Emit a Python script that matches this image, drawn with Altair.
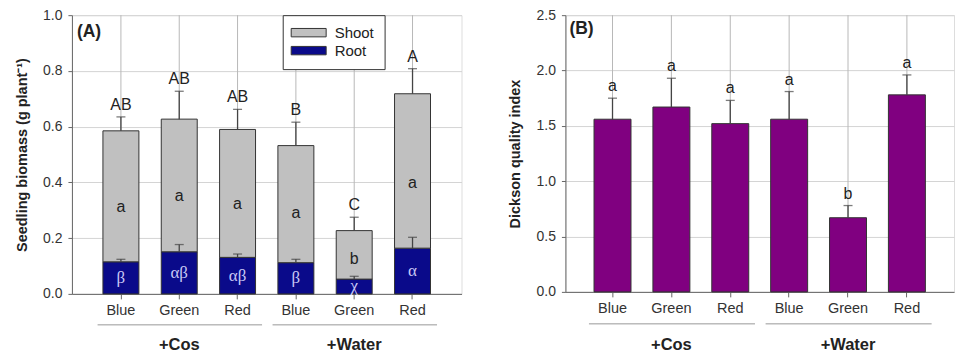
import altair as alt
import pandas as pd

# ---------------- data ----------------
groups = ["+Cos", "+Cos", "+Cos", "+Water", "+Water", "+Water"]
lights = ["Blue", "Green", "Red", "Blue", "Green", "Red"]
keys = [f"{l}_{g}" for l, g in zip(lights, groups)]

total_biomass = [0.585, 0.627, 0.590, 0.532, 0.227, 0.718]
total_err_top = [0.635, 0.727, 0.662, 0.616, 0.275, 0.808]
root_biomass = [0.115, 0.151, 0.131, 0.112, 0.053, 0.164]
root_err_top = [0.124, 0.177, 0.143, 0.124, 0.063, 0.203]
total_letters = ["AB", "AB", "AB", "B", "C", "A"]
shoot_letters = ["a", "a", "a", "a", "b", "a"]
root_letters = ["β", "αβ", "αβ", "β", "χ", "α"]

dqi = [1.56, 1.67, 1.52, 1.56, 0.67, 1.78]
dqi_err_top = [1.75, 1.93, 1.73, 1.81, 0.78, 1.96]
dqi_letters = ["a", "a", "a", "a", "b", "a"]

group_names = ["+Cos", "+Water"]

FONT = "Liberation Sans"
SERIF = "Liberation Serif"
TXT = "#222222"
FRAME = "#666666"
GRID = "#d4d4d4"
VGRID = "#b8b8b8"

# ---------------- tables ----------------
dfA = pd.DataFrame({
    "key": keys, "total": total_biomass, "terr": total_err_top,
    "root": root_biomass, "rerr": root_err_top,
    "tl": total_letters, "sl": shoot_letters, "rl": root_letters,
})
dfA["smid"] = dfA["root"] + 0.42 * (dfA["total"] - dfA["root"])
dfA["rmid"] = dfA["root"] / 2

bars_rows = []
for k, r, t in zip(keys, root_biomass, total_biomass):
    bars_rows.append({"key": k, "part": "Root", "lo": 0.0, "hi": r})
    bars_rows.append({"key": k, "part": "Shoot", "lo": r, "hi": t})
barsA = pd.DataFrame(bars_rows)

dfB = pd.DataFrame({"key": keys, "v": dqi, "err": dqi_err_top, "l": dqi_letters})

grp = pd.DataFrame({
    "g": group_names,
    "start": [keys[0], keys[3]],
    "end": [keys[2], keys[5]],
    "mid": [keys[1], keys[4]],
})


def xaxis():
    return alt.Axis(
        title=None, labelExpr="split(datum.label,'_')[0]", labelAngle=0,
        labelFontSize=14.5, labelColor="#333", labelFont=FONT,
        tickSize=5, tickColor=FRAME, labelPadding=5, bandPosition=0.5,
        grid=False, domainColor=FRAME,
    )


def xscale(po):
    return alt.Scale(domain=keys, paddingOuter=po, paddingInner=0)


def xenc(po, field="key:N", **kw):
    return alt.X(field, scale=xscale(po), axis=xaxis(), **kw)


def yaxis(title, vals):
    return alt.Axis(
        title=title, values=vals, format=".1f",
        labelFontSize=14, labelColor="#333", labelFont=FONT,
        titleFontSize=14.5, titleFontWeight="bold", titleColor=TXT, titleFont=FONT,
        tickSize=4, tickColor=FRAME, labelPadding=6, titlePadding=13,
        grid=True, gridColor=GRID, domainColor=FRAME,
    )


def vgrid(df, po, yscale, top):
    return alt.Chart(df).mark_rule(color=VGRID, strokeWidth=1).encode(
        x=xenc(po),
        y=alt.Y("zero:Q", scale=yscale),
        y2=alt.datum(top),
    ).transform_calculate(zero="0")


def group_layers(po, line_y, label_y):
    lines = alt.Chart(grp).mark_rule(color="#999999", strokeWidth=1).encode(
        x=xenc(po, "start:N", bandPosition=0.1),
        x2=alt.X2("end:N", bandPosition=0.92),
        y=alt.value(line_y),
    )
    labels = alt.Chart(grp).mark_text(
        font=FONT, fontSize=16.5, fontWeight="bold", color=TXT, baseline="middle"
    ).encode(
        x=xenc(po, "mid:N"),
        y=alt.value(label_y), text="g:N",
    )
    return lines, labels


# ---------------- panel A ----------------
poA = 0.34
yA = alt.Scale(domain=[0, 1])
gridA = vgrid(dfA, poA, yA, 1.0)
barA = alt.Chart(barsA).mark_bar(size=36, stroke="#333333", strokeWidth=1).encode(
    x=xenc(poA),
    y=alt.Y("lo:Q", scale=yA,
            axis=yaxis("Seedling biomass (g plant⁻¹)", [0, 0.2, 0.4, 0.6, 0.8, 1.0])),
    y2="hi:Q",
    color=alt.Color(
        "part:N",
        scale=alt.Scale(domain=["Shoot", "Root"], range=["#c0c0c0", "#0a0a8a"]),
        legend=alt.Legend(
            title=None, orient="none", legendX=211, legendY=0,
            direction="vertical", strokeColor="#333333", fillColor="white",
            padding=10, symbolType="M-2.5,-0.6H2.5V0.6H-2.5Z", symbolSize=196,
            symbolOffset=8.5, symbolStrokeColor="#333333", symbolStrokeWidth=1,
            labelFontSize=15, labelFont=FONT, labelColor=TXT, labelOffset=18.5,
            rowPadding=2,
        ),
    ),
)
errA_t = alt.Chart(dfA).mark_rule(color="#444444", strokeWidth=1.3).encode(
    x=xenc(poA), y=alt.Y("total:Q", scale=yA), y2="terr:Q")
capA_t = alt.Chart(dfA).mark_tick(color="#444444", size=9, thickness=1.3).encode(
    x=xenc(poA), y=alt.Y("terr:Q", scale=yA))
errA_r = alt.Chart(dfA).mark_rule(color="#444444", strokeWidth=1.3).encode(
    x=xenc(poA), y=alt.Y("root:Q", scale=yA), y2="rerr:Q")
capA_r = alt.Chart(dfA).mark_tick(color="#444444", size=9, thickness=1.3).encode(
    x=xenc(poA), y=alt.Y("rerr:Q", scale=yA))
tlA = alt.Chart(dfA).mark_text(font=FONT, fontSize=16, color=TXT, baseline="bottom", dy=-4).encode(
    x=xenc(poA), y=alt.Y("terr:Q", scale=yA), text="tl:N")
slA = alt.Chart(dfA).mark_text(font=FONT, fontSize=16, color=TXT, baseline="middle").encode(
    x=xenc(poA), y=alt.Y("smid:Q", scale=yA), text="sl:N")
rlA = alt.Chart(dfA).mark_text(font=SERIF, fontSize=17, color="#c8c8f4", baseline="middle").encode(
    x=xenc(poA), y=alt.Y("rmid:Q", scale=yA), text="rl:N")
panA_lbl = alt.Chart(pd.DataFrame({"t": ["(A)"]})).mark_text(
    font=FONT, fontSize=17.5, fontWeight="bold", color=TXT, align="left", baseline="middle"
).encode(x=alt.value(5), y=alt.value(17), text="t:N")
linesA, glabA = group_layers(poA, 310, 330)

chartA = alt.layer(gridA, barA, errA_t, capA_t, errA_r, capA_r, tlA, slA, rlA, panA_lbl,
                   linesA, glabA).properties(width=390, height=279)

# ---------------- panel B ----------------
poB = 0.3
yB = alt.Scale(domain=[0, 2.5])
gridB = vgrid(dfB, poB, yB, 2.5)
barB = alt.Chart(dfB).mark_bar(size=37, color="#800080", stroke="#333333", strokeWidth=1).encode(
    x=xenc(poB),
    y=alt.Y("v:Q", scale=yB,
            axis=yaxis("Dickson quality index", [0, 0.5, 1.0, 1.5, 2.0, 2.5])),
)
errB = alt.Chart(dfB).mark_rule(color="#444444", strokeWidth=1.3).encode(
    x=xenc(poB), y=alt.Y("v:Q", scale=yB), y2="err:Q")
capB = alt.Chart(dfB).mark_tick(color="#444444", size=9, thickness=1.3).encode(
    x=xenc(poB), y=alt.Y("err:Q", scale=yB))
lB = alt.Chart(dfB).mark_text(font=FONT, fontSize=16, color=TXT, baseline="bottom", dy=-4).encode(
    x=xenc(poB), y=alt.Y("err:Q", scale=yB), text="l:N")
panB_lbl = alt.Chart(pd.DataFrame({"t": ["(B)"]})).mark_text(
    font=FONT, fontSize=17.5, fontWeight="bold", color=TXT, align="left", baseline="middle"
).encode(x=alt.value(4), y=alt.value(14), text="t:N")
linesB, glabB = group_layers(poB, 309, 330)

chartB = alt.layer(gridB, barB, errB, capB, lB, panB_lbl, linesB, glabB).properties(
    width=389, height=277)

chart = alt.hconcat(chartA, chartB, spacing=104, bounds="flush").properties(
    padding={"left": 14, "top": 7, "right": 2, "bottom": 0}
).configure_view(stroke=FRAME, strokeWidth=1).configure(font=FONT, background="white")

chart.save("out.html", embed_options={"renderer": "svg", "actions": False})
